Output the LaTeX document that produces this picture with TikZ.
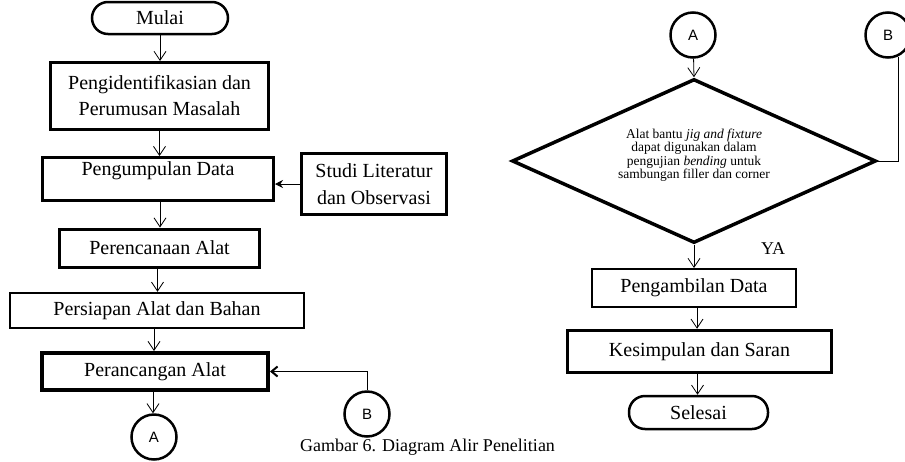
\documentclass[tikz,border=0pt]{standalone}
\usepackage{fontspec}
\setmainfont{Liberation Serif}
\setsansfont{Liberation Sans}
\usetikzlibrary{
		positioning,
		arrows.meta,
		shapes.geometric
	}
\tikzset{
		>={Straight Barb[length=9pt,width=12pt]}
	}

\begin{document}
\begin{tikzpicture}[x=1pt, y=-1pt,
		process/.style={rectangle, draw, line width=3pt, inner sep=0pt, align=center, font=\fontsize{20}{26}\selectfont},
		terminal/.style={rectangle, draw, rounded corners=16pt, line width=2.5pt, inner sep=0pt, font=\fontsize{20}{24}\selectfont},
		connector/.style={circle, draw, line width=2.5pt, inner sep=0pt, minimum size=45pt, font=\sffamily\fontsize{15}{17}\selectfont},
		decision/.style={diamond, aspect=2.2, draw, line width=3.5pt, inner sep=0pt, align=center, font=\fontsize{13.5}{13.5}\selectfont},
		flow/.style={->, line width=0.8pt}]
	\useasboundingbox (0,0) rectangle (905,461);

	\node[terminal, minimum width=136pt, minimum height=32pt] (mulai) at (160,18) {Mulai};
	\node[process, minimum width=218pt, minimum height=67pt] (identifikasi) at (159.5,96) {Pengidentifikasian dan\\Perumusan Masalah};
	\node[process, minimum width=231pt, minimum height=43pt, text depth=21pt] (pengumpulan) at (158,179) {Pengumpulan Data};
	\node[process, minimum width=145pt, minimum height=61pt, font=\fontsize{20}{27}\selectfont] (studi) at (374,184) {Studi Literatur\\dan Observasi};
	\node[process, minimum width=200pt, minimum height=38pt] (perencanaan) at (159.5,248) {Perencanaan Alat};
	\node[process, minimum width=294pt, minimum height=35pt, line width=2.5pt] (persiapan) at (157,310.5) {Persiapan Alat dan Bahan};
	\node[process, minimum width=226pt, minimum height=37pt, line width=4pt] (perancangan) at (155,371.5) {Perancangan Alat};
	\node[connector] (akiri) at (154,437) {A};
	\node[connector] (bkiri) at (367,414) {B};

	\node[connector] (akanan) at (693,35) {A};
	\node[connector] (bkanan) at (888,35) {B};
	\node[decision, minimum width=364pt, minimum height=164pt, text depth=15pt] (keputusan) at (694,161)
		{Alat bantu \textit{jig and fixture}\\dapat digunakan dalam\\pengujian \textit{bending} untuk\\sambungan filler dan corner};
	\node[font=\fontsize{18}{20}\selectfont] (ya) at (773,249) {YA};
	\node[process, minimum width=204pt, minimum height=38pt, line width=2pt] (pengambilan) at (694,288) {Pengambilan Data};
	\node[process, minimum width=264pt, minimum height=42pt, line width=3.5pt] (kesimpulan) at (699.5,351.5) {Kesimpulan dan Saran};
	\node[terminal, minimum width=139pt, minimum height=33pt] (selesai) at (698.5,412.5) {Selesai};

	\node[font=\fontsize{18}{20}\selectfont] (judul) at (427.5,447) {Gambar 6. Diagram Alir Penelitian};

	\draw[flow] (mulai) -- (mulai |- identifikasi.north);
	\draw[flow] (identifikasi) -- (identifikasi |- pengumpulan.north);
	\draw[flow] (pengumpulan.south) ++(2,0) coordinate (p1) -- (p1 |- perencanaan.north);
	\draw[flow] (perencanaan.south) ++(-2,0) coordinate (p2) -- (p2 |- persiapan.north);
	\draw[flow] (persiapan.south) ++(-3,0) coordinate (p3) -- (p3 |- perancangan.north);
	\draw[flow] (perancangan.south) ++(-2,0) coordinate (p4) -- (p4 |- akiri.north);
	\draw[line width=0.8pt, -{Stealth[length=8pt,width=8pt]}] (studi.west) -- (studi.west -| pengumpulan.east);
	\draw[line width=0.8pt, -{Straight Barb[length=6pt,width=10pt,line width=2pt]}] (bkiri.north) |- (perancangan.east);

	\draw[flow] (akanan) -- (keputusan.north);
	\draw[line width=0.8pt] (bkanan.-65) |- (keputusan.east);
	\draw[flow] (keputusan.south) -- (keputusan.south |- pengambilan.north);
	\draw[flow] (pengambilan.south) ++(3,0) coordinate (p5) -- (p5 |- kesimpulan.north);
	\draw[flow] (kesimpulan.south) ++(-2,0) coordinate (p6) -- (p6 |- selesai.north);
\end{tikzpicture}
\end{document}
